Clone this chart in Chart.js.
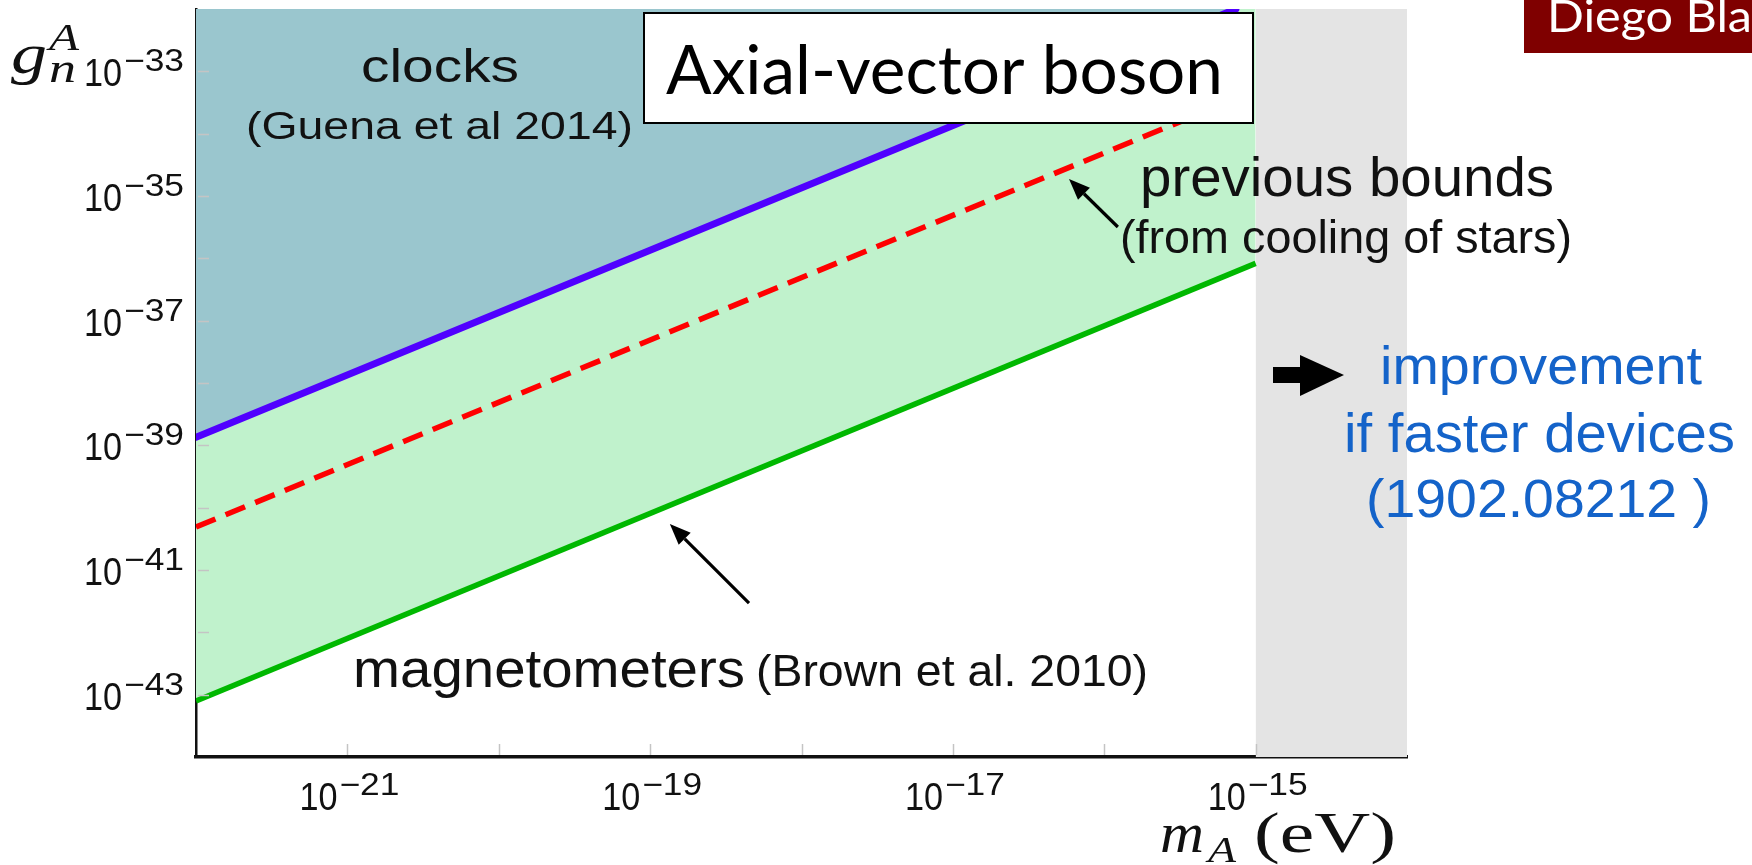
<!DOCTYPE html>
<html>
<head>
<meta charset="utf-8">
<script src="https://cdn.jsdelivr.net/npm/chart.js@4.4.0/dist/chart.umd.min.js"></script>
<style>
  html, body { margin: 0; padding: 0; background: #ffffff; }
  canvas { display: block; }
</style>
</head>
<body>
<canvas id="bounds" width="1752" height="865"></canvas>
<script>
// Axial-vector boson mass m_A (eV) at the ends of each bound, with the coupling g_n^A there
const clockMass = [1e-22, 7.4e-16];
const clockCoupling = [1.35e-39, 1e-32];
const starMass = [1e-22, 7e-16];
const starCoupling = [4.9e-41, 3.43e-34];
const magnetometerMass = [1e-22, 1e-15];
const magnetometerCoupling = [7.9e-44, 8.3e-37];
const fastDeviceMass = [1e-15, 1e-14];
const fastDeviceCoupling = [1e-32, 1e-32];

// Decade labels and minor decade marks
const xTickExponents = [-21, -19, -17, -15];
const yTickExponents = [-33, -35, -37, -39, -41, -43];
const xMarkExponents = [-21, -20, -19, -18, -17, -16, -15];
const yMarkExponents = [-43, -42, -41, -40, -39, -38, -37, -36, -35, -34, -33];

// Arrow ends in (mass, coupling)
const starArrow = { tail: [1.23e-16, 3.18e-36], tip: [5.85e-17, 1.87e-35] };
const magnetometerArrow = { tail: [4.5e-19, 2.95e-42], tip: [1.35e-19, 5.47e-41] };

const pts = (xs, ys) => xs.map((x, i) => ({ x, y: ys[i] }));

const SANS = '"Liberation Sans", Arial, sans-serif';
const SERIF = '"Liberation Serif", "Times New Roman", serif';
const SLIDE = 'Lato, "Open Sans", sans-serif';

// Draw text starting at `left` on baseline `base`, squeezed or stretched to `width`
function fitText(ctx, str, left, base, size, width, family, style, color) {
  ctx.save();
  ctx.font = `${style || ''} ${size}px ${family}`;
  ctx.fillStyle = color || '#000';
  ctx.textAlign = 'left';
  ctx.textBaseline = 'alphabetic';
  const w = ctx.measureText(str).width;
  ctx.translate(left, base);
  ctx.scale(width / w, 1);
  ctx.fillText(str, 0, 0);
  ctx.restore();
}

// "10" with a raised exponent
const POW_MAIN_W = 38, POW_SUP_W = 60, POW_GAP = 2;
const POW_W = POW_MAIN_W + POW_GAP + POW_SUP_W;
function drawPower(ctx, exp, left, base) {
  fitText(ctx, '10', left, base, 38, POW_MAIN_W, SANS, '', '#111');
  fitText(ctx, '\u2212' + Math.abs(exp), left + POW_MAIN_W + POW_GAP, base - 15, 31, POW_SUP_W, SANS, '', '#111');
}

function arrow(ctx, x0, y0, x1, y1, lw, headLen, headW) {
  const a = Math.atan2(y1 - y0, x1 - x0);
  const bx = x1 - headLen * Math.cos(a), by = y1 - headLen * Math.sin(a);
  ctx.save();
  ctx.strokeStyle = '#000'; ctx.fillStyle = '#000'; ctx.lineWidth = lw;
  ctx.beginPath(); ctx.moveTo(x0, y0); ctx.lineTo(bx, by); ctx.stroke();
  ctx.beginPath();
  ctx.moveTo(x1, y1);
  ctx.lineTo(bx + headW / 2 * Math.sin(a), by - headW / 2 * Math.cos(a));
  ctx.lineTo(bx - headW / 2 * Math.sin(a), by + headW / 2 * Math.cos(a));
  ctx.closePath(); ctx.fill();
  ctx.restore();
}

const annotate = {
  id: 'annotate',
  afterDraw(chart) {
    const { ctx, chartArea: area } = chart;
    const xs = chart.scales.x, ys = chart.scales.y;

    // short grey decade marks inside the frame
    ctx.save();
    ctx.strokeStyle = '#c4c4c4';
    ctx.lineWidth = 1.5;
    xMarkExponents.forEach(e => {
      const px = Math.round(xs.getPixelForValue(Math.pow(10, e))) + 0.5;
      ctx.beginPath(); ctx.moveTo(px, area.bottom - 2); ctx.lineTo(px, area.bottom - 13); ctx.stroke();
    });
    yMarkExponents.forEach(e => {
      const py = Math.round(ys.getPixelForValue(Math.pow(10, e))) + 0.5;
      ctx.beginPath(); ctx.moveTo(area.left + 2, py); ctx.lineTo(area.left + 13, py); ctx.stroke();
    });
    ctx.restore();

    // tick labels
    xTickExponents.forEach(e => {
      const px = xs.getPixelForValue(Math.pow(10, e));
      drawPower(ctx, e, px - 48, area.bottom + 53);
    });
    yTickExponents.forEach(e => {
      const py = ys.getPixelForValue(Math.pow(10, e));
      drawPower(ctx, e, area.left - 12 - POW_W, py + 15);
    });

    // axis titles
    fitText(ctx, 'g', 11, 73, 58, 36, SERIF, 'italic', '#111');
    fitText(ctx, 'A', 49, 50, 38, 30, SERIF, 'italic', '#111');
    fitText(ctx, 'n', 49, 82, 42, 27, SERIF, 'italic', '#111');
    fitText(ctx, 'm', 1160, 852, 58, 44, SERIF, 'italic', '#111');
    fitText(ctx, 'A', 1208, 862, 36, 28, SERIF, 'italic', '#111');
    fitText(ctx, '(eV)', 1254, 852, 58, 142, SERIF, '', '#111');

    // region labels
    fitText(ctx, 'clocks', 361, 82, 46, 158, SANS, '', '#111');
    fitText(ctx, '(Guena et al 2014)', 246, 139, 39.5, 387, SANS, '', '#111');
    fitText(ctx, 'previous bounds', 1140, 196, 56, 414, SANS, '', '#111');
    fitText(ctx, '(from cooling of stars)', 1120, 253, 47, 452, SANS, '', '#111');
    fitText(ctx, 'magnetometers', 353, 687, 53, 392, SANS, '', '#111');
    fitText(ctx, '(Brown et al. 2010)', 756, 686, 45, 392, SANS, '', '#111');

    // pointers to the bounds
    const at = p => [xs.getPixelForValue(p[0]), ys.getPixelForValue(p[1])];
    let t0 = at(starArrow.tail), t1 = at(starArrow.tip);
    arrow(ctx, t0[0], t0[1], t1[0], t1[1], 3.2, 21, 17);
    t0 = at(magnetometerArrow.tail); t1 = at(magnetometerArrow.tip);
    arrow(ctx, t0[0], t0[1], t1[0], t1[1], 3.2, 21, 17);

    // bold arrow toward the outlook text
    ctx.save();
    ctx.fillStyle = '#000';
    ctx.fillRect(1273, 367, 29, 16);
    ctx.beginPath(); ctx.moveTo(1300, 355); ctx.lineTo(1344, 375); ctx.lineTo(1300, 396); ctx.closePath(); ctx.fill();
    ctx.restore();

    const blue = '#1463c9';
    fitText(ctx, 'improvement', 1380, 384, 53, 322, SANS, '', blue);
    fitText(ctx, 'if faster devices', 1344, 452, 55, 391, SANS, '', blue);
    fitText(ctx, '(1902.08212 )', 1366, 517, 53, 345, SANS, '', blue);

    // title box
    ctx.save();
    ctx.fillStyle = '#ffffff';
    ctx.fillRect(644, 13, 609, 110);
    ctx.strokeStyle = '#000'; ctx.lineWidth = 2;
    ctx.strokeRect(644, 13, 609, 110);
    ctx.restore();
    fitText(ctx, 'Axial-vector boson', 666, 94, 68, 557, SLIDE, '', '#000');

    // speaker tag
    ctx.save();
    ctx.fillStyle = '#7f0000';
    ctx.fillRect(1524, 0, 228, 53);
    ctx.restore();
    fitText(ctx, 'Diego Bla', 1547, 32, 44, 205, SLIDE, '', '#ffffff');
  }
};

new Chart(document.getElementById('bounds'), {
  type: 'line',
  data: {
    datasets: [
      {
        label: 'clocks (Guena et al 2014)',
        data: pts(clockMass, clockCoupling),
        borderColor: '#5000ff', borderWidth: 7, borderCapStyle: 'round',
        backgroundColor: '#9ac6ce', fill: 'end', pointRadius: 0
      },
      {
        label: 'cooling of stars',
        data: pts(starMass, starCoupling),
        borderColor: '#ff0000', borderWidth: 5.5, borderDash: [21, 11],
        fill: false, pointRadius: 0
      },
      {
        label: 'magnetometers (Brown et al. 2010)',
        data: pts(magnetometerMass, magnetometerCoupling),
        borderColor: '#00b800', borderWidth: 5.5,
        backgroundColor: '#c0f2cc', fill: 'end', pointRadius: 0
      },
      {
        label: 'faster devices',
        data: pts(fastDeviceMass, fastDeviceCoupling),
        borderColor: 'rgba(0,0,0,0)', borderWidth: 1,
        backgroundColor: '#e4e4e4', fill: 'start', pointRadius: 0
      }
    ]
  },
  options: {
    responsive: false,
    animation: false,
    devicePixelRatio: 1,
    layout: { padding: { left: 196, right: 345, top: 9, bottom: 108 } },
    plugins: { legend: { display: false }, tooltip: { enabled: false } },
    scales: {
      x: {
        type: 'logarithmic', min: 1e-22, max: 1e-14, z: 1,
        grid: { display: false, drawTicks: false },
        ticks: { display: false },
        border: { display: true, color: '#111', width: 3.5 }
      },
      y: {
        type: 'logarithmic', min: 1e-44, max: 1e-32, z: 1,
        grid: { display: false, drawTicks: false },
        ticks: { display: false },
        border: { display: true, color: '#111', width: 2.5 }
      }
    }
  },
  plugins: [annotate]
});
</script>
</body>
</html>
